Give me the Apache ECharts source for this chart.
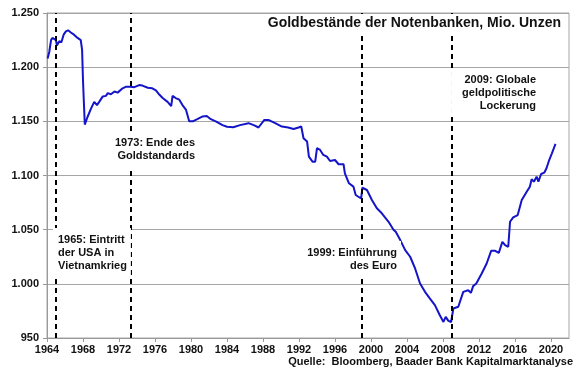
<!DOCTYPE html>
<html><head><meta charset="utf-8">
<script src="https://cdn.jsdelivr.net/npm/echarts@6/dist/echarts.min.js"></script>
<style>html,body{margin:0;padding:0;background:#fff}#c{width:580px;height:375px}</style>
</head><body><div id="c"></div>
<script>
const years = [1964.07,1964.25,1964.45,1964.6,1965.0,1965.1,1965.37,1965.6,1965.85,1966.1,1966.35,1966.65,1967.0,1967.4,1967.75,1967.9,1968.0,1968.1,1968.2,1968.5,1968.9,1969.25,1969.55,1969.8,1970.2,1970.55,1970.75,1971.1,1971.5,1971.85,1972.4,1972.8,1973.3,1973.7,1974.25,1974.6,1975.2,1975.7,1976.1,1976.5,1976.85,1977.4,1977.8,1977.95,1978.3,1978.7,1979.05,1979.45,1979.8,1980.2,1980.7,1981.3,1981.75,1982.2,1982.75,1983.5,1984.0,1984.7,1985.45,1986.4,1987.1,1987.5,1988.15,1988.6,1989.35,1990.1,1990.8,1991.4,1991.95,1992.25,1992.5,1992.9,1993.1,1993.5,1993.8,1994.0,1994.35,1994.7,1995.1,1995.45,1996.0,1996.4,1996.95,1997.1,1997.55,1998.05,1998.3,1998.6,1998.9,1999.05,1999.55,2000.1,2000.65,2001.2,2001.95,2002.5,2002.75,2003.25,2003.8,2004.35,2004.9,2005.45,2006.0,2006.55,2007.1,2007.65,2008.05,2008.3,2008.6,2008.9,2009.05,2009.15,2009.7,2010.25,2010.8,2011.1,2011.35,2011.7,2012.3,2012.85,2013.35,2013.8,2014.2,2014.6,2014.9,2015.25,2015.45,2015.8,2016.3,2016.75,2017.3,2017.65,2017.85,2018.1,2018.4,2018.6,2018.9,2019.25,2019.5,2019.8,2020.1,2020.5];
const reserves = [1208,1214,1225,1227,1225,1220,1224,1223,1230,1233,1234,1232,1230,1227,1225,1216,1188,1167,1147,1154,1162,1168,1165,1168,1173,1173.5,1176,1175,1177.5,1176.5,1180.5,1182,1182,1181.5,1183.5,1183,1181,1180.5,1178.5,1174.5,1171.5,1168,1164,1173.5,1171.5,1170,1165,1160.5,1150,1150,1152,1154.5,1155,1152,1150,1146.5,1145,1144.5,1146.5,1148.3,1146,1144.3,1151.3,1151.3,1148.3,1145.2,1144.3,1143,1144.3,1145.2,1134.4,1131.3,1117.4,1112.8,1112.8,1125.2,1123.6,1119,1117.4,1113.4,1114.3,1110.4,1110.4,1102,1092.8,1089.7,1082,1080.4,1078.9,1088.7,1086.6,1077.4,1069.7,1065.1,1057.3,1050,1048,1040.4,1031.1,1025,1014.2,1000.3,992.6,986.4,980.3,971,964.8,969.5,965.8,964.8,963.9,977.2,978.8,992.6,994.1,991.7,997.9,1000.3,1009.6,1018.8,1030.5,1030.5,1028.6,1038.8,1035.7,1034.2,1057.3,1061.4,1063.5,1077.4,1085,1089.7,1096.5,1094.3,1098.9,1094.3,1101.4,1102.6,1106.7,1114.3,1120.5,1129.1];
const eventYears = [1965, 1973.25, 1999, 2009];
const eventLabels = ["1965: Eintritt\nder USA in\nVietnamkrieg", "1973: Ende des\nGoldstandards", "1999: Einführung\ndes Euro", "2009: Globale\ngeldpolitische\nLockerung"];
const titleText = "Goldbestände der Notenbanken, Mio. Unzen";
const sourceText = "Quelle:  Bloomberg, Baader Bank Kapitalmarktanalyse";

const FONT = '"Liberation Sans", Arial, sans-serif';
function deFmt(v){ if (v >= 1000) { const t = Math.floor(v/1000); const r = String(Math.round(v - t*1000)).padStart(3,'0'); return t + '.' + r; } return String(v); }

const chart = echarts.init(document.getElementById('c'), null, {renderer:'canvas'});
const annStyle = (txt, align, pad) => ({text: txt, font: 'bold 11px ' + FONT, fill: '#111', textAlign: align, textVerticalAlign: 'top', lineHeight: 13, backgroundColor: '#fff', padding: pad});
chart.setOption({
  animation: false,
  backgroundColor: '#fff',
  grid: {left: 47, right: 11, top: 13, bottom: 37, show: true, borderColor: '#a6a6a6', borderWidth: 1},
  xAxis: {type: 'value', min: 1964, max: 2022, interval: 4,
    axisLine: {show: true, onZero: false, lineStyle: {color: '#999'}},
    axisTick: {show: true, length: 4, lineStyle: {color: '#999'}},
    splitLine: {show: false},
    axisLabel: {showMaxLabel: false, color: '#111', fontFamily: FONT, fontWeight: 'bold', fontSize: 11, margin: 6, formatter: v => String(v)}},
  yAxis: {type: 'value', min: 950, max: 1250, interval: 50,
    axisLine: {show: true, lineStyle: {color: '#999'}},
    axisTick: {show: true, length: 4, lineStyle: {color: '#999'}},
    splitLine: {show: true, lineStyle: {color: '#a6a6a6', width: 1}},
    axisLabel: {color: '#111', fontFamily: FONT, fontWeight: 'bold', fontSize: 11, margin: 8, formatter: deFmt}},
  series: [{type: 'line', data: years.map((y,i)=>[y, reserves[i]]), showSymbol: false, symbol: 'none',
    lineStyle: {color: '#1414c8', width: 2}, z: 3,
    markLine: {silent: true, symbol: ['none','none'], label: {show: false}, z: 4,
      lineStyle: {color: '#000', width: 2, type: [5,4]},
      data: eventYears.map(x => ({xAxis: x}))}}],
  graphic: [
    {type: 'text', z: 100, x: 564, y: 14, style: {text: titleText, font: 'bold 14px ' + FONT, fill: '#111', textAlign: 'right', textVerticalAlign: 'top', backgroundColor: '#fff', padding: [2,3,3,4]}},
    {type: 'text', z: 100, x: 573, y: 356, style: {text: sourceText, font: 'bold 11px ' + FONT, fill: '#111', textAlign: 'right', textVerticalAlign: 'top'}},
    {type: 'text', z: 100, x: 53, y: 228, style: annStyle(eventLabels[0], 'left', [5,4,5,5])},
    {type: 'text', z: 100, x: 199, y: 131, style: annStyle(eventLabels[1], 'right', [5,4,5,4])},
    {type: 'text', z: 100, x: 401, y: 241, style: annStyle(eventLabels[2], 'right', [5,4,5,4])},
    {type: 'text', z: 100, x: 540, y: 68, style: annStyle(eventLabels[3], 'right', [5,4,5,11])}
  ]
});
</script></body></html>
